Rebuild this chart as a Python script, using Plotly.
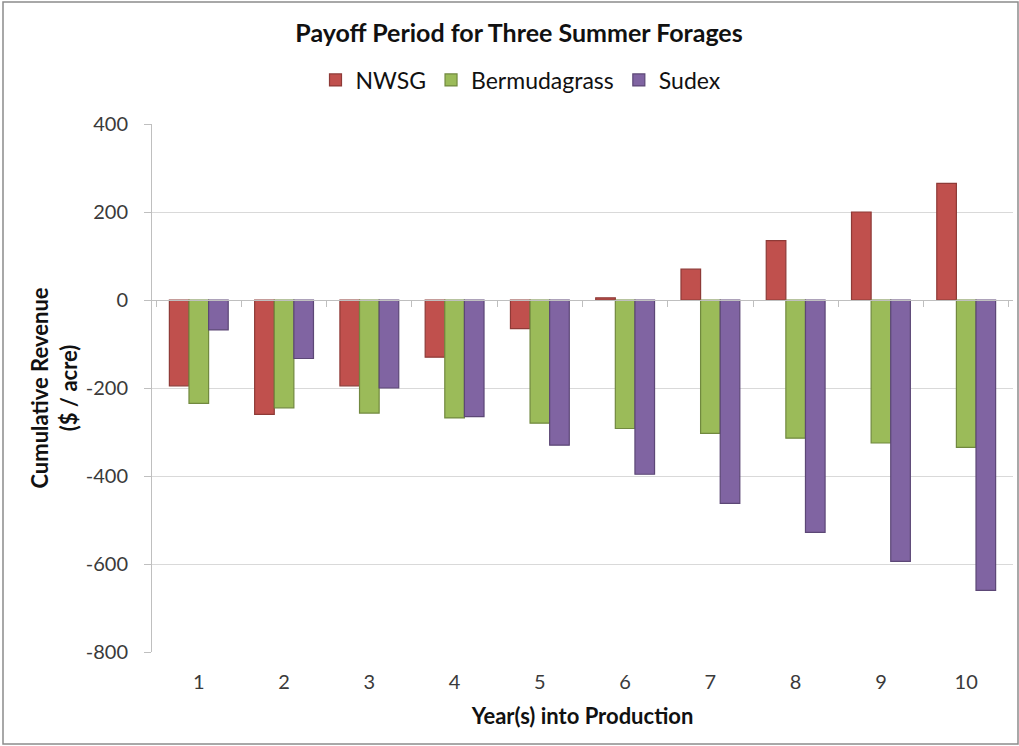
import plotly.graph_objects as go

years = ["1", "2", "3", "4", "5", "6", "7", "8", "9", "10"]
nwsg = [-195, -260, -195, -130, -65, 5, 70, 135, 200, 265]
bermudagrass = [-235, -245, -257, -268, -280, -292, -303, -314, -325, -335]
sudex = [-68, -133, -200, -265, -330, -396, -462, -528, -594, -660]
y_ticks = [-800, -600, -400, -200, 0, 200, 400]
y_tick_labels = ["-800", "-600", "-400", "-200", "0", "200", "400"]

series = [
    ("NWSG", nwsg, "#C0504D", "#8E3A37"),
    ("Bermudagrass", bermudagrass, "#9BBB59", "#71893F"),
    ("Sudex", sudex, "#8064A2", "#5C4776"),
]

W, H = 1019, 746
L, R, T, B = 152, 6, 124, 94
FONT = "Lato"
TXT = "#3a3a3a"

fig = go.Figure()
for name, vals, col, edge in series:
    fig.add_trace(go.Bar(
        x=years, y=vals, name=name,
        marker=dict(color=col, line=dict(color=edge, width=1.2)),
    ))

# invisible trace to carry the zero-line axis with boundary ticks
fig.add_trace(go.Scatter(x=years, y=[None]*len(years), xaxis="x2", yaxis="y",
                         showlegend=False, hoverinfo="skip"))

pw, ph = W - L - R, H - T - B

fig.update_layout(
    width=W, height=H,
    margin=dict(l=L, r=R, t=T, b=B),
    paper_bgcolor="white", plot_bgcolor="white",
    font=dict(family=FONT, size=20, color=TXT),
    barmode="group", bargap=0.31, bargroupgap=0.0,
    title=dict(text="<b>Payoff Period for Three Summer Forages</b>",
               x=519 / W, xref="container", xanchor="center",
               y=1 - 33 / H, yref="container", yanchor="middle",
               font=dict(size=25, family=FONT, color="#111")),
    legend=dict(orientation="h", x=(521 - L) / pw, xanchor="center",
                y=1 - 80 / H, yref="container", yanchor="middle",
                font=dict(size=23, family=FONT, color="#111"),
                itemwidth=30, tracegroupgap=0),
    xaxis=dict(
        type="category", showgrid=False, showline=False, ticks="",
        tickfont=dict(size=20, family=FONT, color=TXT),
        ticklabelstandoff=16,
        title=dict(text="<b>Year(s) into Production</b>",
                   font=dict(size=22, family=FONT, color="#111"), standoff=16),
    ),
    xaxis2=dict(
        type="category", overlaying="x", matches="x", anchor="free",
        position=800 / 1200, side="bottom",
        showgrid=False, showline=True, linecolor="#BFBFBF", linewidth=1,
        ticks="outside", tickson="boundaries", ticklen=6, tickcolor="#BFBFBF",
        showticklabels=False,
    ),
    yaxis=dict(
        range=[-800, 400], tickvals=y_ticks, ticktext=y_tick_labels,
        showgrid=True, gridcolor="#D9D9D9", gridwidth=1,
        zeroline=False, showline=True, linecolor="#BFBFBF", linewidth=1,
        ticks="outside", ticklen=7, tickcolor="#BFBFBF",
        ticklabelstandoff=12,
        tickfont=dict(size=20, family=FONT, color=TXT),
        title=dict(text="<b>Cumulative Revenue<br>($ / acre)</b>",
                   font=dict(size=22, family=FONT, color="#111"), standoff=2),
    ),
)

# chart-area border
fig.add_shape(type="rect", xref="paper", yref="paper",
              x0=(3 - L) / pw, x1=(W - 1 - L) / pw,
              y0=-(B - 2) / ph, y1=1 + (T - 2) / ph,
              line=dict(color="#8C8C8C", width=1.5), layer="below")

fig.write_html("out.html", config={"displayModeBar": False},
               post_script="document.body.style.margin='0';document.body.style.overflow='hidden';")
